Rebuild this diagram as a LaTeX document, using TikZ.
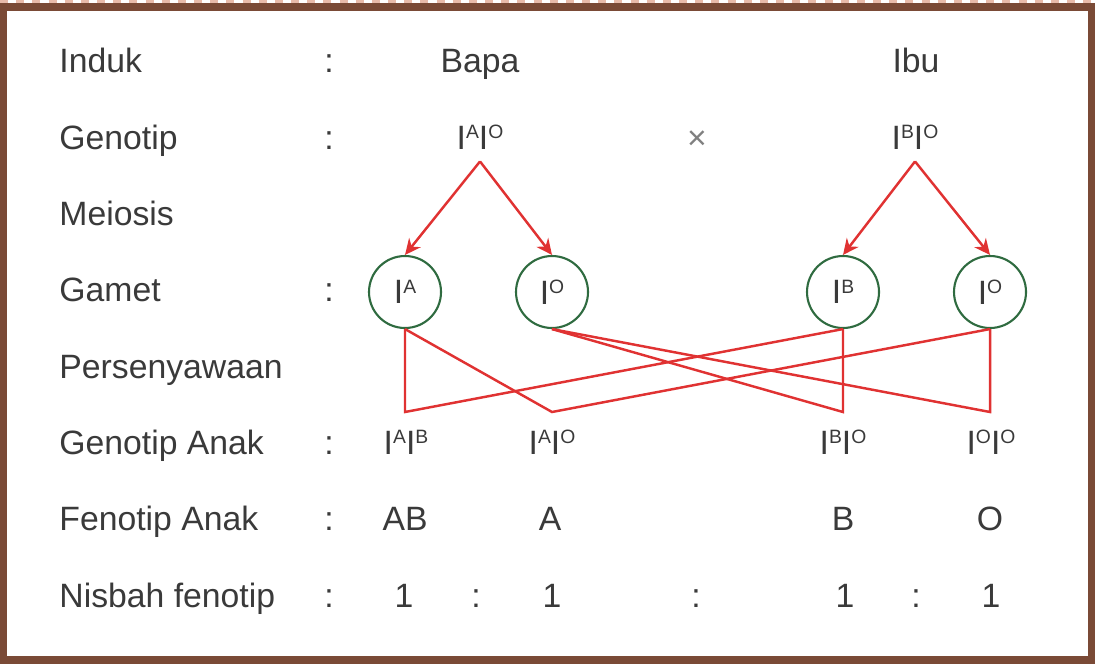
\documentclass[tikz,border=0pt]{standalone}
\usepackage{fontspec}
\setmainfont{Liberation Sans}
\usepackage{xcolor}
\usepackage{tikz}
\usetikzlibrary{arrows.meta}

\definecolor{bingkai}{HTML}{7A4A36}
\definecolor{putus}{HTML}{E8BBAA}
\definecolor{merah}{HTML}{E03232}
\definecolor{hijau}{HTML}{2F6B40}
\definecolor{teks}{HTML}{3A3A3A}

\newcommand{\alel}[1]{I\raisebox{3pt}{\fontsize{5.5}{6}\selectfont #1}}

\begin{document}
\begin{tikzpicture}[
  every node/.style={text=teks, font=\fontsize{9.6}{11}\selectfont},
  judul/.style={anchor=base west},
  isi/.style={anchor=base},
  gamet/.style={circle, draw=hijau, line width=0.6pt, minimum size=0.72cm, inner sep=0pt},
  merahan/.style={merah, line width=0.7pt},
]
\useasboundingbox (0,0) rectangle (10.95,6.63);
% bingkai
\draw[putus, line width=0.85pt, dash pattern=on 2.3pt off 2.3pt] (0,6.615) -- (10.95,6.615);
\draw[bingkai, line width=2.1pt] (0.035,6.56) rectangle (10.915,0.03);

% tajuk baris
\node[judul] (tInduk) at (0.47,5.91) {Induk};
\node[judul] (tGenotip) at (0.47,5.14) {Genotip};
\node[judul] (tMeiosis) at (0.47,4.38) {Meiosis};
\node[judul] (tGamet) at (0.47,3.62) {Gamet};
\node[judul] (tPersenyawaan) at (0.47,2.85) {Persenyawaan};
\node[judul] (tAnak) at (0.47,2.09) {Genotip Anak};
\node[judul] (tFenotip) at (0.47,1.33) {Fenotip Anak};
\node[judul] (tNisbah) at (0.47,0.56) {Nisbah fenotip};

% titik bertindih
\node[isi] (k1) at (3.29,5.91) {:};
\node[isi] (k2) at (3.29,5.14) {:};
\node[isi] (k3) at (3.29,3.62) {:};
\node[isi] (k4) at (3.29,2.09) {:};
\node[isi] (k5) at (3.29,1.33) {:};
\node[isi] (k6) at (3.29,0.56) {:};

% induk
\node[isi] (bapa) at (4.80,5.91) {Bapa};
\node[isi] (ibu) at (9.16,5.91) {Ibu};
\node[isi] (gBapa) at (4.80,5.14) {\alel{A}\alel{O}};
\node[isi, text=gray] (kali) at (6.97,5.14) {×};
\node[isi] (gIbu) at (9.15,5.14) {\alel{B}\alel{O}};

% gamet
\node[gamet] (gA) at (4.05,3.71) {\alel{A}};
\node[gamet] (gO1) at (5.52,3.71) {\alel{O}};
\node[gamet] (gB) at (8.43,3.71) {\alel{B}};
\node[gamet] (gO2) at (9.90,3.71) {\alel{O}};

\draw[merahan, -{Stealth[length=4.5pt,width=4.2pt]}] (gBapa.south) -- (gA.north);
\draw[merahan, -{Stealth[length=4.5pt,width=4.2pt]}] (gBapa.south) -- (gO1.north);
\draw[merahan, -{Stealth[length=4.5pt,width=4.2pt]}] (gIbu.south) -- (gB.north);
\draw[merahan, -{Stealth[length=4.5pt,width=4.2pt]}] (gIbu.south) -- (gO2.north);

% persenyawaan
\coordinate (pAB) at (4.05,2.51);
\coordinate (pAO) at (5.52,2.51);
\coordinate (pBO) at (8.43,2.51);
\coordinate (pOO) at (9.90,2.51);
\draw[merahan] (gA.south) -- (pAB) -- (gB.south);
\draw[merahan] (gA.south) -- (pAO) -- (gO2.south);
\draw[merahan] (gO1.south) -- (pBO) -- (gB.south);
\draw[merahan] (gO1.south) -- (pOO) -- (gO2.south);

% anak
\node[isi] (aAB) at (4.06,2.09) {\alel{A}\alel{B}};
\node[isi] (aAO) at (5.52,2.09) {\alel{A}\alel{O}};
\node[isi] (aBO) at (8.43,2.09) {\alel{B}\alel{O}};
\node[isi] (aOO) at (9.91,2.09) {\alel{O}\alel{O}};
\node[isi] (fAB) at (4.05,1.33) {AB};
\node[isi] (fA) at (5.50,1.33) {A};
\node[isi] (fB) at (8.43,1.33) {B};
\node[isi] (fO) at (9.90,1.33) {O};

% nisbah
\node[isi] (n1) at (4.04,0.56) {1};
\node[isi] (c1) at (4.76,0.56) {:};
\node[isi] (n2) at (5.52,0.56) {1};
\node[isi] (c2) at (6.96,0.56) {:};
\node[isi] (n3) at (8.45,0.56) {1};
\node[isi] (c3) at (9.16,0.56) {:};
\node[isi] (n4) at (9.91,0.56) {1};
\end{tikzpicture}
\end{document}
